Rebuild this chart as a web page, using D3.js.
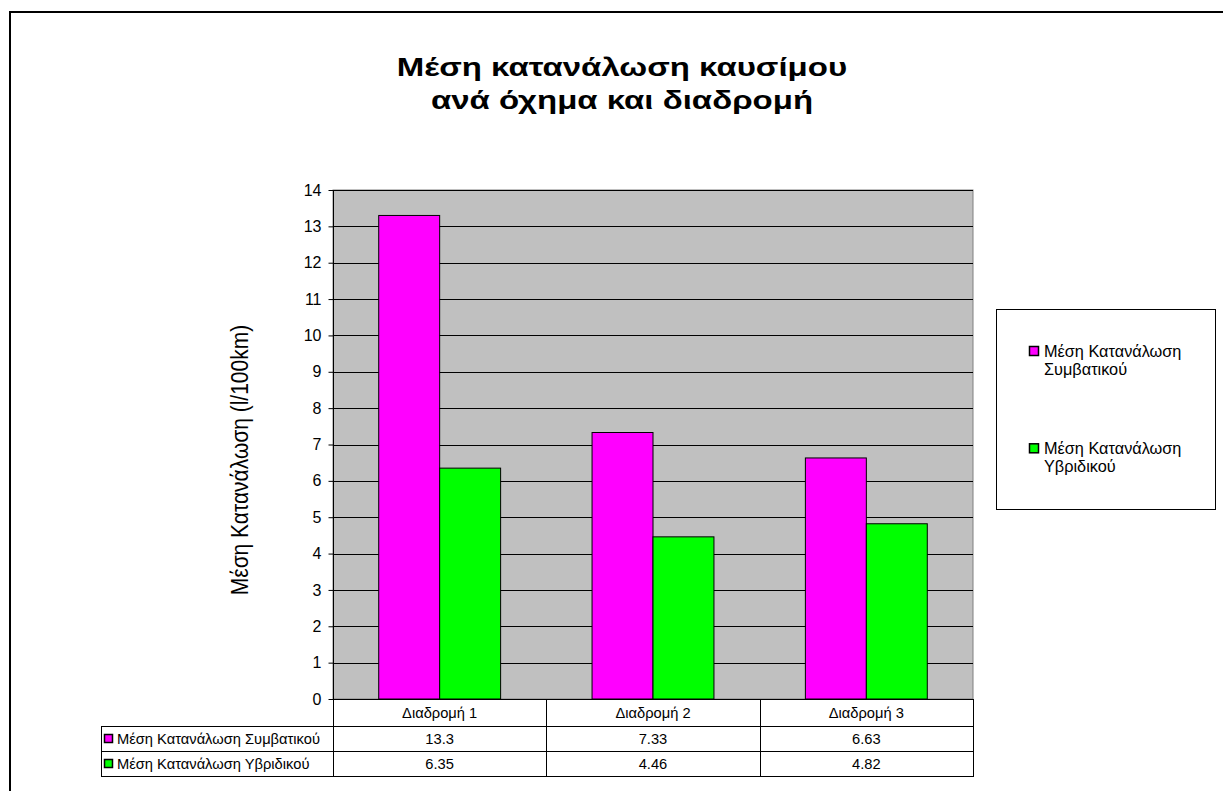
<!DOCTYPE html>
<html>
<head>
<meta charset="utf-8">
<script src="https://cdn.jsdelivr.net/npm/d3@7/dist/d3.min.js"></script>
<style>
  html, body { margin: 0; padding: 0; background: #fff; }
  svg { display: block; font-family: "Liberation Sans", Arial, sans-serif; }
</style>
</head>
<body>
<svg id="chart" width="1223" height="791"></svg>
<script>
const categories = ["Διαδρομή 1", "Διαδρομή 2", "Διαδρομή 3"];
const seriesNames = ["Μέση Κατανάλωση Συμβατικού", "Μέση Κατανάλωση Υβριδικού"];
const legendLines = [["Μέση Κατανάλωση", "Συμβατικού"], ["Μέση Κατανάλωση", "Υβριδικού"]];
const conventional = [13.3, 7.33, 6.63];
const hybrid = [6.35, 4.46, 4.82];
const yTicks = [0,1,2,3,4,5,6,7,8,9,10,11,12,13,14];
const titleLines = ["Μέση κατανάλωση καυσίμου", "ανά όχημα και διαδρομή"];
const yTitle = "Μέση Κατανάλωση (l/100km)";
const colors = ["#FF00FF", "#00FF00"];
const seriesValues = [conventional, hybrid];

const svg = d3.select("#chart");

// helper: horizontally stretched text
function sText(parent, x, y, sx, txt) {
  const g = parent.append("g").attr("transform", `translate(${x},${y}) scale(${sx},1)`);
  return g.append("text").attr("x", 0).attr("y", 0).text(txt);
}

// outer border
svg.append("rect").attr("x", 10).attr("y", 12).attr("width", 1240).attr("height", 800)
  .attr("fill", "none").attr("stroke", "#000").attr("stroke-width", 2);

const L = 333, R = 973, T = 190, B = 699;

const x = d3.scaleBand().domain(categories).range([L, R]).paddingInner(0).paddingOuter(0);
const y = d3.scaleLinear().domain([0, 14]).range([B, T]);
const bw = x.bandwidth() / 3.5;
const xs = d3.scaleBand().domain(seriesNames).range([0.75 * bw, 2.75 * bw]).padding(0);

// title
titleLines.forEach((t, i) => {
  sText(svg, 622, 76 + i * 32.6, 1.32, t)
    .attr("text-anchor", "middle").attr("font-weight", "bold").attr("font-size", 25);
});

// plot area
svg.append("rect").attr("x", L).attr("y", T).attr("width", R - L).attr("height", B - T)
  .attr("fill", "#C0C0C0").attr("stroke", "#808080").attr("stroke-width", 1);

// gridlines
svg.append("g").selectAll("line").data(yTicks.filter(t => t > 0)).join("line")
  .attr("x1", L).attr("x2", R)
  .attr("y1", d => Math.round(y(d)) + 0.5).attr("y2", d => Math.round(y(d)) + 0.5)
  .attr("stroke", "#000").attr("stroke-width", 1);

// bars
seriesNames.forEach((s, si) => {
  svg.append("g").selectAll("rect").data(categories).join("rect")
    .attr("x", c => x(c) + xs(s))
    .attr("y", (c, i) => y(seriesValues[si][i]))
    .attr("width", xs.bandwidth())
    .attr("height", (c, i) => y(0) - y(seriesValues[si][i]))
    .attr("fill", colors[si]).attr("stroke", "#000").attr("stroke-width", 1);
});

// y axis
const yAxis = d3.axisLeft(y).tickValues(yTicks).tickSize(5).tickPadding(7).tickFormat(d3.format("d"));
const ya = svg.append("g").attr("transform", `translate(${L + 0.5},0)`).call(yAxis);
ya.select(".domain").remove();
ya.selectAll("line").attr("stroke", "#000");
ya.selectAll("text").attr("font-size", 16).attr("fill", "#000")
  .attr("font-family", "Liberation Sans, Arial, sans-serif").attr("x", -12);
svg.append("line").attr("x1", L + 0.5).attr("x2", L + 0.5).attr("y1", T).attr("y2", 777)
  .attr("stroke", "#000");
svg.append("line").attr("x1", L).attr("x2", R).attr("y1", B + 0.5).attr("y2", B + 0.5).attr("stroke", "#000");

// y title
svg.append("text").attr("transform", "translate(248,460) scale(1.15,1) rotate(-90)")
  .attr("text-anchor", "middle").attr("font-size", 21).text(yTitle);

// data table
const tLeft = 101;
const tg = svg.append("g").attr("stroke", "#000").attr("stroke-width", 1);
[726, 751, 776].forEach(yy => {
  tg.append("line").attr("x1", tLeft).attr("x2", R).attr("y1", yy + 0.5).attr("y2", yy + 0.5);
});
tg.append("line").attr("x1", tLeft + 0.5).attr("x2", tLeft + 0.5).attr("y1", 726).attr("y2", 777);
categories.forEach(c => {
  const xr = Math.round(x(c) + x.bandwidth()) + 0.5;
  tg.append("line").attr("x1", xr).attr("x2", xr).attr("y1", 699).attr("y2", 777);
});

const tableFont = 14.7;
// header labels
svg.append("g").selectAll("text").data(categories).join("text")
  .attr("x", c => x(c) + x.bandwidth() / 2).attr("y", 718)
  .attr("text-anchor", "middle").attr("font-size", tableFont).text(c => c);

// values
seriesValues.forEach((vals, si) => {
  svg.append("g").selectAll("text").data(vals).join("text")
    .attr("x", (v, i) => x(categories[i]) + x.bandwidth() / 2)
    .attr("y", 744 + si * 25)
    .attr("text-anchor", "middle").attr("font-size", tableFont).text(v => v);
  svg.append("rect").attr("x", 104.5).attr("y", 734.5 + si * 25).attr("width", 8).attr("height", 8)
    .attr("fill", colors[si]).attr("stroke", "#000").attr("stroke-width", 1.5);
  svg.append("text").attr("x", 117).attr("y", 744 + si * 25).attr("font-size", tableFont).text(seriesNames[si]);
});

// legend
svg.append("rect").attr("x", 996.5).attr("y", 309.5).attr("width", 219).attr("height", 200)
  .attr("fill", "#fff").attr("stroke", "#000").attr("stroke-width", 1);
legendLines.forEach((lines, i) => {
  const y0 = 346.5 + i * 97.3;
  svg.append("rect").attr("x", 1029.5).attr("y", y0).attr("width", 9).attr("height", 9)
    .attr("fill", colors[i]).attr("stroke", "#000").attr("stroke-width", 1.5);
  svg.append("text").attr("font-size", 16.3)
    .selectAll("tspan").data(lines).join("tspan")
    .attr("x", 1044).attr("y", (d, j) => y0 + 10 + j * 18).text(d => d);
});
</script>
</body>
</html>
